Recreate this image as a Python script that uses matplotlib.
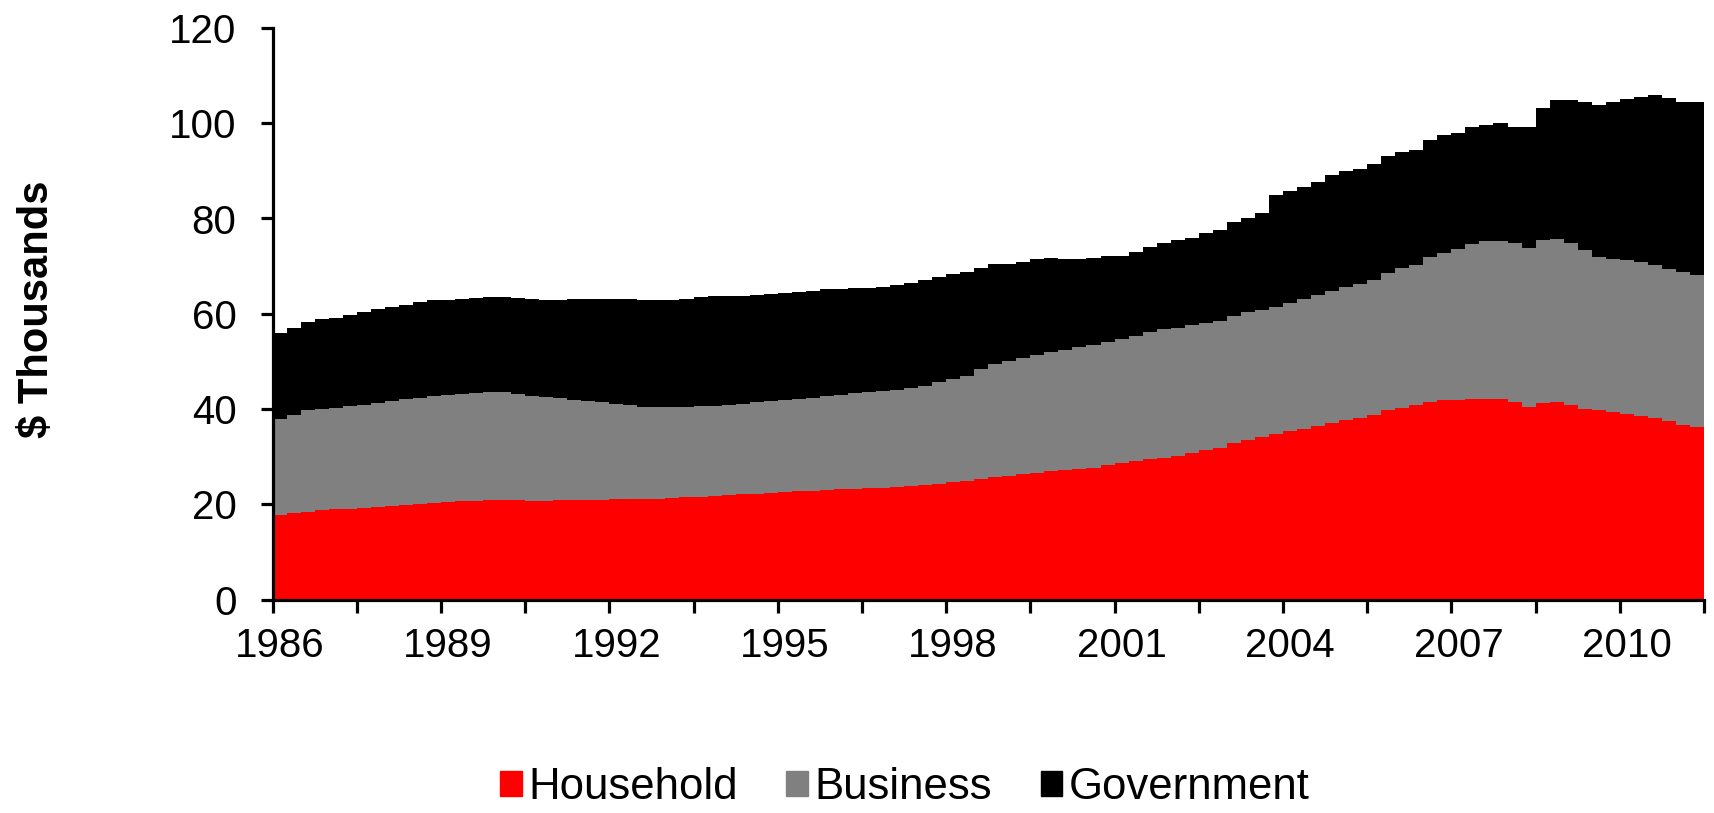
import numpy as np
import matplotlib
matplotlib.use("Agg")
import matplotlib.pyplot as plt
from matplotlib.patches import Patch
from matplotlib import font_manager as fm

# ---- data (quarterly, 1986Q1 .. 2011Q2), $ thousands ----
household = [17.7, 18.1, 18.4, 18.7, 18.9, 19.1, 19.3, 19.5, 19.7, 19.9,
             20.1, 20.3, 20.4, 20.6, 20.7, 20.8, 20.8, 20.8, 20.7, 20.7,
             20.8, 20.8, 20.8, 20.9, 21.0, 21.0, 21.0, 21.1, 21.3, 21.5,
             21.6, 21.7, 22.0, 22.1, 22.2, 22.4, 22.5, 22.7, 22.8, 22.9,
             23.1, 23.2, 23.4, 23.5, 23.6, 23.9, 24.1, 24.3, 24.6, 24.8,
             25.2, 25.7, 26.0, 26.3, 26.6, 26.9, 27.2, 27.4, 27.7, 28.2,
             28.6, 29.0, 29.5, 29.8, 30.2, 30.7, 31.3, 31.9, 32.9, 33.5,
             34.2, 34.8, 35.3, 35.9, 36.5, 37.0, 37.6, 38.2, 38.8, 39.7,
             40.3, 40.8, 41.5, 41.8, 41.9, 42.2, 42.2, 42.1, 41.4, 40.5,
             41.2, 41.4, 40.8, 40.1, 39.7, 39.3, 39.0, 38.6, 38.1, 37.4,
             36.7, 36.3]
business = [20.3, 20.6, 21.3, 21.3, 21.3, 21.5, 21.6, 21.8, 22.0, 22.2,
            22.2, 22.4, 22.6, 22.5, 22.6, 22.7, 22.7, 22.4, 22.1, 21.8,
            21.5, 21.1, 20.8, 20.5, 20.1, 19.9, 19.5, 19.3, 19.1, 18.9,
            19.0, 19.0, 18.9, 19.0, 19.2, 19.2, 19.4, 19.5, 19.6, 19.9,
            19.9, 20.1, 20.1, 20.3, 20.4, 20.6, 20.8, 21.3, 21.7, 22.2,
            23.1, 23.7, 24.1, 24.5, 24.7, 25.0, 25.2, 25.6, 25.8, 25.9,
            26.1, 26.3, 26.7, 27.0, 26.9, 26.9, 26.7, 26.6, 26.7, 26.8,
            26.6, 26.7, 27.0, 27.1, 27.4, 27.8, 28.1, 28.0, 28.3, 28.9,
            29.3, 29.5, 30.5, 31.0, 31.7, 32.5, 33.0, 33.2, 33.5, 33.4,
            34.3, 34.3, 34.1, 33.3, 32.3, 32.3, 32.2, 32.3, 32.1, 31.9,
            32.1, 31.9]
government = [17.9, 18.3, 18.6, 18.9, 19.0, 19.1, 19.5, 19.8, 19.8, 19.7,
              20.1, 20.1, 19.8, 20.0, 20.1, 20.1, 20.1, 20.1, 20.3, 20.4,
              20.6, 21.1, 21.4, 21.7, 21.9, 22.2, 22.4, 22.4, 22.5, 22.8,
              22.9, 23.0, 22.8, 22.7, 22.6, 22.6, 22.5, 22.4, 22.4, 22.5,
              22.3, 22.1, 22.0, 21.9, 22.0, 21.9, 22.2, 22.2, 22.0, 21.8,
              21.3, 21.1, 20.3, 20.1, 20.2, 19.8, 19.2, 18.6, 18.3, 18.0,
              17.4, 17.7, 17.9, 18.1, 18.3, 18.4, 19.0, 19.0, 19.7, 19.8,
              20.4, 23.4, 23.4, 23.6, 23.8, 24.3, 24.2, 24.1, 24.3, 24.5,
              24.3, 24.1, 24.5, 24.8, 24.4, 24.5, 24.5, 24.8, 24.3, 25.4,
              27.7, 29.1, 30.0, 31.1, 31.9, 32.9, 33.8, 34.7, 35.8, 35.9,
              35.6, 36.3]
series_names = ["Household", "Business", "Government"]
series_colors = ["#FF0000", "#808080", "#000000"]
year_labels = ["1986", "1989", "1992", "1995", "1998", "2001", "2004", "2007", "2010"]
y_ticks = [0, 20, 40, 60, 80, 100, 120]

# ---- fonts ----
names = {f.name for f in fm.fontManager.ttflist}
if "Liberation Sans Narrow" in names:
    FAM, FS, LFS = "Liberation Sans Narrow", 33, 36
else:
    FAM, FS, LFS = "Liberation Sans", 29, 31.5
plt.rcParams["font.family"] = [FAM, "DejaVu Sans"]

W, H = 1714, 813
fig = plt.figure(figsize=(W / 100, H / 100), dpi=100)
ax = fig.add_axes([272.5 / W, 1 - 599.5 / H, (1704 - 272.5) / W, (599.5 - 28) / H])

n = len(household)
x = np.arange(n)
h = np.array(household)
b = np.array(business)
g = np.array(government)
bottoms = [np.zeros(n), h, h + b]
for vals, bot, name, col in zip([h, b, g], bottoms, series_names, series_colors):
    ax.bar(x, vals, width=1.0, bottom=bot, color=col, linewidth=0,
           antialiased=False, label=name, zorder=1)

ax.set_xlim(-0.5, n - 0.5)
ax.set_ylim(0, 120)

for s in ["top", "right"]:
    ax.spines[s].set_visible(False)
for s in ["left", "bottom"]:
    ax.spines[s].set_linewidth(2.3)
    ax.spines[s].set_zorder(5)

ax.set_yticks(y_ticks)
ax.set_yticklabels([str(v) for v in y_ticks])
ax.tick_params(axis="y", direction="out", length=9, width=2.3, pad=17,
               labelsize=FS)

major_x = np.arange(-0.5, n, 6)
ax.set_xticks(major_x)
ax.set_xticklabels([""] * len(major_x))
ax.tick_params(axis="x", which="major", direction="out", length=9, width=2.3)
minor_x = np.arange(0, n, 12)[:len(year_labels)]
ax.set_xticks(minor_x, minor=True)
ax.set_xticklabels(year_labels, minor=True)
ax.tick_params(axis="x", which="minor", length=0, pad=20, labelsize=FS)

ax.set_ylabel(r"\$ Thousands", fontsize=30, fontweight="bold",
              family=["Liberation Sans", "DejaVu Sans"])
ax.yaxis.set_label_coords((57 - 272.5) / (1704 - 272.5), 0.508)

handles = [Patch(facecolor=c, edgecolor=c) for c in series_colors]
fig.legend(handles, series_names, loc="center", bbox_to_anchor=(0.528, 0.031),
           ncol=3, frameon=False, fontsize=LFS, handlelength=0.5,
           handleheight=0.5, handletextpad=0.15, columnspacing=1.1,
           borderpad=0.0)

fig.savefig("out.png", dpi=100, facecolor="white")
